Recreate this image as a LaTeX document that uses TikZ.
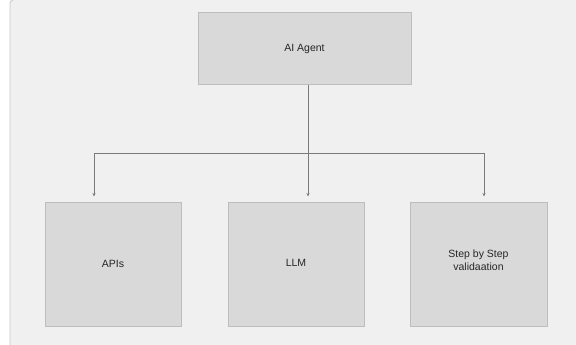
\documentclass[tikz,border=0pt]{standalone}
\usepackage{fontspec}
\setmainfont{Liberation Sans}
\usepackage{xcolor}
\usetikzlibrary{arrows.meta}

\definecolor{pagebg}{HTML}{F0F0F0}
\definecolor{boxfill}{HTML}{D9D9D9}
\definecolor{boxline}{HTML}{BDBDBD}
\definecolor{wire}{HTML}{7A7A7A}

\tikzset{
  block/.style={draw=boxline,line width=1pt,fill=boxfill,inner sep=0pt,
    align=center,font=\fontsize{10.5}{12.5}\selectfont,text=black!85},
  link/.style={draw=wire,line width=0.6pt},
  linkarrow/.style={link,-{Stealth[length=3.5pt,width=3pt]}}
}

\begin{document}
\begin{tikzpicture}[x=1pt,y=-1pt]
        % \draw[help lines] grid(576,345);
        \useasboundingbox (0,0) rectangle (576,345);
        \fill[white] (0,0) rectangle (576,345);
        \fill[pagebg] (10,0.5) rectangle (576,345);
        \draw[boxline!80,line width=0.8pt] (10,345) -- (10,3) to[out=90,in=180] (13,0.5);

        \node[block,minimum width=213pt,minimum height=72pt] (agent) at (304.5,49) {AI Agent};

        \node[block,minimum width=136pt,minimum height=124pt] (apis) at (113,264) {\raisebox{-2pt}{APIs}};
        \node[block,minimum width=136pt,minimum height=124pt] (llm) at (296,264) {\raisebox{2pt}{LLM}};
        \node[block,minimum width=137pt,minimum height=124pt] (step) at (478.5,264) {\raisebox{7pt}{\shortstack{Step by Step\\validaation}}};

        \coordinate (drop) at (308,153);
        \coordinate (left) at (94,153);
        \coordinate (right) at (484,153);

        \draw[link] (agent.south -| drop) -- (drop);
        \draw[link] (left) -- (right);
        \draw[linkarrow] (left) -- ([yshift=5pt]apis.north -| left);
        \draw[linkarrow] (drop) -- ([yshift=5pt]llm.north -| drop);
        \draw[linkarrow] (right) -- ([yshift=5pt]step.north -| right);
    \end{tikzpicture}
\end{document}
